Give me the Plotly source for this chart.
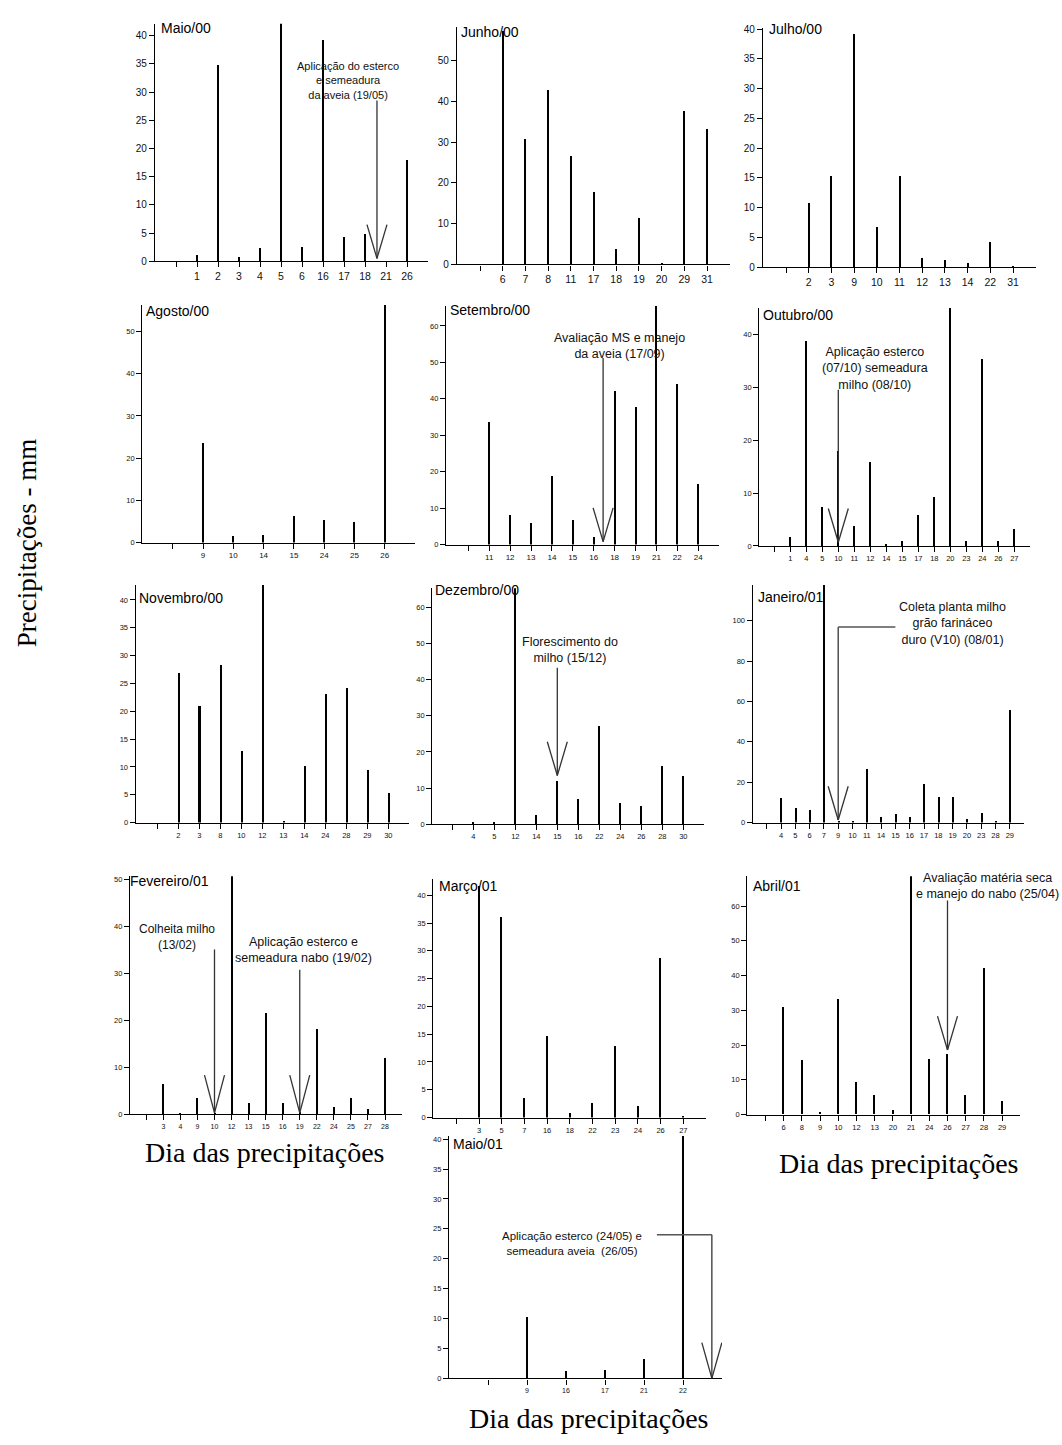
import plotly.graph_objects as go

W, H = 1062, 1445

# ---------------- data (day labels and rainfall in mm) ----------------
maio00_dias = ["1", "2", "3", "4", "5", "6", "16", "17", "18", "21", "26"]
maio00_mm = [1.2, 34.9, 0.7, 2.3, 42.2, 2.5, 39.3, 4.3, 4.8, 0.0, 18.0]

junho00_dias = ["6", "7", "8", "11", "17", "18", "19", "20", "29", "31"]
junho00_mm = [57.5, 30.8, 43.0, 26.7, 17.8, 3.8, 11.5, 0.3, 37.7, 33.3]

julho00_dias = ["2", "3", "9", "10", "11", "12", "13", "14", "22", "31"]
julho00_mm = [10.8, 15.4, 39.2, 6.8, 15.3, 1.5, 1.3, 0.7, 4.2, 0.3]

agosto00_dias = ["9", "10", "14", "15", "24", "25", "26"]
agosto00_mm = [23.6, 1.6, 1.9, 6.2, 5.3, 4.8, 56.3]

setembro00_dias = ["11", "12", "13", "14", "15", "16", "18", "19", "21", "22", "24"]
setembro00_mm = [33.6, 8.2, 5.9, 18.9, 6.7, 2.0, 42.1, 37.8, 65.5, 44.1, 16.6]

outubro00_dias = ["1", "4", "5", "10", "11", "12", "14", "15", "17", "18", "20", "23", "24", "26", "27"]
outubro00_mm = [1.8, 38.8, 7.3, 17.9, 3.7, 15.9, 0.3, 0.9, 5.8, 9.2, 45.0, 0.9, 35.3, 0.9, 3.2]

novembro00_dias = ["2", "3", "8", "10", "12", "13", "14", "24", "28", "29", "30"]
novembro00_mm = [26.8, 21.0, 28.4, 12.8, 42.7, 0.3, 10.2, 23.1, 24.2, 9.4, 5.4]

dezembro00_dias = ["4", "5", "12", "14", "15", "16", "22", "24", "26", "28", "30"]
dezembro00_mm = [0.6, 0.5, 65.3, 2.6, 11.9, 7.0, 27.2, 5.8, 5.1, 16.0, 13.4]

janeiro01_dias = ["4", "5", "6", "7", "9", "10", "11", "14", "15", "16", "17", "18", "19", "20", "23", "28", "29"]
janeiro01_mm = [12.3, 7.5, 6.4, 117.7, 0.8, 0.4, 26.7, 2.6, 4.1, 2.6, 19.0, 12.5, 12.5, 2.0, 4.7, 0.7, 55.7]

fevereiro01_dias = ["3", "4", "9", "10", "12", "13", "15", "16", "19", "22", "24", "25", "27", "28"]
fevereiro01_mm = [6.4, 0.3, 3.4, 0.3, 50.6, 2.4, 21.4, 2.4, 0.4, 18.0, 1.6, 3.5, 1.0, 12.0]

marco01_dias = ["3", "5", "7", "16", "18", "22", "23", "24", "26", "27"]
marco01_mm = [41.7, 36.2, 3.6, 14.7, 0.8, 2.6, 12.9, 2.2, 28.8, 0.4]

abril01_dias = ["6", "8", "9", "10", "12", "13", "20", "21", "24", "26", "27", "28", "29"]
abril01_mm = [30.9, 15.7, 0.8, 33.2, 9.2, 5.5, 1.2, 68.6, 16.0, 17.3, 5.6, 42.2, 3.7]

maio01_dias = ["9", "16", "17", "21", "22"]
maio01_mm = [10.3, 1.2, 1.4, 3.3, 40.5]

# ---------------- layout of panels (pixel geometry) ----------------
# L: y-axis x px, u: first (blank) tick px, s: tick spacing px, B: y=0 px, T: top px
panels = [
    dict(name="Maio/00", dias=maio00_dias, mm=maio00_mm, L=155, u=176, s=21.0, B=259, T=20, ymax=42.1, dtick=5, yfs=10, xfs=10.5,
         tpos=(159, 24), hh=34, events=[dict(x=9.57, y0=28.5, y1=0.5)],
         notes=[("Aplicação do esterco<br>e semeadura<br>da aveia (19/05)", 348, 77, 11)]),
    dict(name="Junho/00", dias=junho00_dias, mm=junho00_mm, L=457, u=480, s=22.7, B=262.3, T=22.7, ymax=58.4, dtick=10, yfs=10, xfs=10.5,
         tpos=(459, 28), hh=34, events=[], notes=[]),
    dict(name="Julho/00", dias=julho00_dias, mm=julho00_mm, L=763, u=786, s=22.7, B=265, T=24, ymax=40.2, dtick=5, yfs=10, xfs=10.5,
         tpos=(767, 25), hh=34, events=[], notes=[]),
    dict(name="Agosto/00", dias=agosto00_dias, mm=agosto00_mm, L=142.3, u=172.7, s=30.3, B=542.3, T=303, ymax=56.3, dtick=10, yfs=7.5, xfs=8,
         tpos=(144, 309), hh=34, events=[], notes=[]),
    dict(name="Setembro/00", dias=setembro00_dias, mm=setembro00_mm, L=446, u=468.3, s=20.9, B=544.3, T=304, ymax=65.5, dtick=10, yfs=7.5, xfs=8,
         tpos=(448, 308), hh=34, events=[dict(x=6.45, y0=51.2, y1=0.8)],
         notes=[("Avaliação MS e manejo<br>da aveia (17/09)", 619, 344, 12.5)]),
    dict(name="Outubro/00", dias=outubro00_dias, mm=outubro00_mm, L=759.3, u=774.3, s=16.0, B=545.7, T=306, ymax=45.0, dtick=10, yfs=7.5, xfs=7.5,
         tpos=(761, 313), hh=34, events=[dict(x=4.0, y0=29.5, y1=0.7)],
         notes=[("Aplicação esterco<br>(07/10) semeadura<br>milho (08/10)", 875, 367, 12.5)]),
    dict(name="Novembro/00", dias=novembro00_dias, mm=novembro00_mm, L=135.7, u=157.3, s=21.0, B=824.3, T=585, ymax=42.7, dtick=5, yfs=7.5, xfs=7.5,
         tpos=(137, 598), hh=34, events=[], notes=[]),
    dict(name="Dezembro/00", dias=dezembro00_dias, mm=dezembro00_mm, L=432.3, u=452.3, s=21.0, B=826, T=588.3, ymax=65.3, dtick=10, yfs=7.5, xfs=7.5,
         tpos=(433, 590), hh=34, events=[dict(x=5.0, y0=43.3, y1=13.5)],
         notes=[("Florescimento do<br>milho (15/12)", 570, 650, 12.5)]),
    dict(name="Janeiro/01", dias=janeiro01_dias, mm=janeiro01_mm, L=752.7, u=766.7, s=14.3, B=824.3, T=585, ymax=117.7, dtick=20, yfs=7.5, xfs=7.5,
         tpos=(756, 597), hh=34, events=[dict(x=5.0, y0=96.9, y1=1.3, hx=9.0)],
         notes=[("Coleta planta milho<br>grão farináceo<br>duro (V10) (08/01)", 952, 624, 12.5)]),
    dict(name="Fevereiro/01", dias=fevereiro01_dias, mm=fevereiro01_mm, L=130, u=146.3, s=17.05, B=1118, T=878.3, ymax=50.6, dtick=10, yfs=7.5, xfs=7,
         tpos=(128, 883), hh=38, events=[dict(x=4.0, y0=35.0, y1=0.3), dict(x=9.0, y0=30.7, y1=0.3)],
         notes=[("Colheita milho<br>(13/02)", 177, 939, 12), ("Aplicação esterco e<br>semeadura nabo (19/02)", 303, 953, 12.5)]),
    dict(name="Março/01", dias=marco01_dias, mm=marco01_mm, L=433.3, u=456.3, s=22.7, B=1121.3, T=880.7, ymax=43.0, dtick=5, yfs=7.5, xfs=7.5,
         tpos=(437, 888), hh=34, events=[], notes=[]),
    dict(name="Abril/01", dias=abril01_dias, mm=abril01_mm, L=747.3, u=765.5, s=18.2, B=1118.3, T=878.3, ymax=68.6, dtick=10, yfs=7.5, xfs=7.5,
         tpos=(751, 888), hh=34, events=[dict(x=10.0, y0=61.6, y1=18.6)],
         notes=[("Avaliação matéria seca<br>e manejo do nabo (25/04)", 987, 888, 12.5)]),
    dict(name="Maio/01", dias=maio01_dias, mm=maio01_mm, L=449, u=488, s=39.0, B=1384, T=1140, ymax=40.5, dtick=5, yfs=7.5, xfs=7,
         tpos=(451, 1148), hh=36, events=[dict(x=5.74, y0=24.0, y1=0.0, hx=4.33)],
         notes=[("Aplicação esterco (24/05) e<br>semeadura aveia  (26/05)", 572, 1248, 11.5)]),
]

BAR_PX = 2.0
HEAD_DX_PX = 10.0
SANS = "Arial, Liberation Sans, sans-serif"
SERIF = "Times New Roman, Liberation Serif, serif"

fig = go.Figure()
layout_axes = {}
shapes = []
annotations = []

for i, p in enumerate(panels, start=1):
    n = len(p["dias"])
    sfx = "" if i == 1 else str(i)
    xa, ya = "x" + sfx, "y" + sfx
    R = p["u"] + (n + 1) * p["s"]
    xmin = (p["L"] - p["u"]) / p["s"]
    ppu = (p["B"] - p["T"]) / p["ymax"]

    fig.add_trace(go.Bar(
        x=list(range(1, n + 1)), y=p["mm"], width=BAR_PX / p["s"],
        marker=dict(color="black", line=dict(width=0)),
        xaxis=xa, yaxis=ya, showlegend=False, hoverinfo="skip"))

    layout_axes["xaxis" + sfx] = dict(
        domain=[p["L"] / W, R / W], range=[xmin, n + 1], anchor=ya,
        tickmode="array", tickvals=list(range(0, n + 1)), ticktext=[""] + p["dias"],
        showline=True, linecolor="black", linewidth=1.3, ticks="outside", ticklen=5,
        tickcolor="black", tickwidth=1, showgrid=False, zeroline=False,
        tickfont=dict(family=SANS, size=p["xfs"], color="#111"), fixedrange=True)
    layout_axes["yaxis" + sfx] = dict(
        domain=[1 - p["B"] / H, 1 - p["T"] / H], range=[0, p["ymax"]], anchor=xa,
        tickmode="linear", tick0=0, dtick=p["dtick"],
        showline=True, linecolor="black", linewidth=1.3, ticks="outside", ticklen=5,
        tickcolor="black", tickwidth=1, showgrid=False, zeroline=False,
        tickfont=dict(family=SANS, size=p["yfs"], color="#111"), fixedrange=True)

    annotations.append(dict(text=p["name"], x=p["tpos"][0] / W, y=1 - p["tpos"][1] / H,
                            xref="paper", yref="paper", xanchor="left", yanchor="middle",
                            showarrow=False, font=dict(family=SANS, size=14, color="black")))

    for ev in p["events"]:
        dx = HEAD_DX_PX / p["s"]
        dh = p["hh"] / ppu
        ln = dict(color="#333", width=1.3)
        shapes.append(dict(type="line", xref=xa, yref=ya, x0=ev["x"], x1=ev["x"], y0=ev["y0"], y1=ev["y1"], line=ln))
        shapes.append(dict(type="line", xref=xa, yref=ya, x0=ev["x"] - dx, x1=ev["x"], y0=ev["y1"] + dh, y1=ev["y1"], line=ln))
        shapes.append(dict(type="line", xref=xa, yref=ya, x0=ev["x"] + dx, x1=ev["x"], y0=ev["y1"] + dh, y1=ev["y1"], line=ln))
        if "hx" in ev:
            shapes.append(dict(type="line", xref=xa, yref=ya, x0=ev["x"], x1=ev["hx"], y0=ev["y0"], y1=ev["y0"],
                               line=dict(color="#555", width=1.5)))

    for txt, cx, cy, fs in p["notes"]:
        annotations.append(dict(text=txt, x=cx / W, y=1 - cy / H, xref="paper", yref="paper",
                                xanchor="center", yanchor="middle", align="center", showarrow=False,
                                font=dict(family=SANS, size=fs, color="#111")))

# big axis titles
annotations.append(dict(text="Precipitações - mm", x=27 / W, y=1 - 543 / H, xref="paper", yref="paper",
                        textangle=-90, showarrow=False, xanchor="center", yanchor="middle",
                        font=dict(family=SERIF, size=27, color="black")))
for cx, cy in [(264, 1157), (898, 1168), (588, 1424)]:
    annotations.append(dict(text="Dia das precipitações", x=cx / W, y=1 - cy / H, xref="paper", yref="paper",
                            showarrow=False, xanchor="center", yanchor="middle",
                            font=dict(family=SERIF, size=28, color="black")))

fig.update_layout(
    width=W, height=H, autosize=False,
    margin=dict(l=0, r=0, t=0, b=0),
    paper_bgcolor="white", plot_bgcolor="white",
    bargap=0, showlegend=False,
    shapes=shapes, annotations=annotations,
    **layout_axes)

fig.write_html("out.html", config=dict(displayModeBar=False))
